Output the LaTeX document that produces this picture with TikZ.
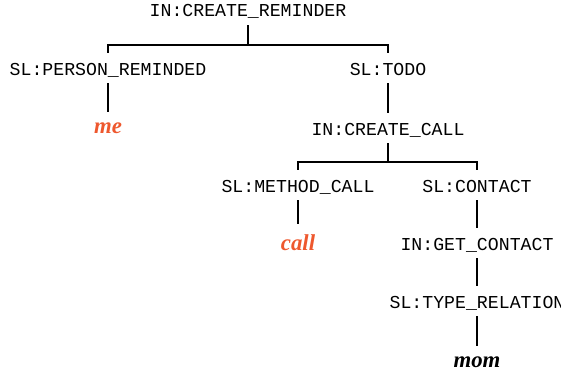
\documentclass[tikz,border=0pt]{standalone}
\usepackage{fontspec}
\setmainfont{Liberation Serif}
\setmonofont{Liberation Mono}
\definecolor{leafred}{RGB}{238,88,46}
\begin{document}
\begin{tikzpicture}[x=0.5pt,y=-0.5pt,
  lbl/.style={inner sep=0pt,anchor=base,font=\fontsize{9.1}{11}\ttfamily,text height=5.75pt,text depth=0pt},
  leaf/.style={inner sep=0pt,anchor=base,font=\fontsize{11.4}{13}\bfseries\itshape},
  edge/.style={line width=0.6pt},
  down/.style={edge,shorten <=4pt,shorten >=5pt},
  tick/.style={edge,shorten >=5pt}]
\useasboundingbox (0,0) rectangle (561,376);
% nodes
\node[lbl] (root) at (248,16) {IN:CREATE\_REMINDER};
\node[lbl] (person) at (108,75) {SL:PERSON\_REMINDED};
\node[lbl] (todo) at (388,75) {SL:TODO};
\node[leaf,text=leafred] (me) at (108,133) {me};
\node[lbl] (createcall) at (388,135) {IN:CREATE\_CALL};
\node[lbl] (method) at (298,192) {SL:METHOD\_CALL};
\node[lbl] (contact) at (477,192) {SL:CONTACT};
\node[leaf,text=leafred] (call) at (298,250) {call};
\node[lbl] (getcontact) at (477,250) {IN:GET\_CONTACT};
\node[lbl] (relation) at (477,308) {SL:TYPE\_RELATION};
\node[leaf] (mom) at (477,367) {mom};
% bars
\coordinate (b1) at (248,45);
\coordinate (b2) at (388,162);
\draw[edge,shorten <=4.5pt] (root.south) -- (b1);
\draw[tick] (b1) -| (person.north);
\draw[tick] (b1) -| (todo.north);
\draw[edge,shorten <=4pt] (createcall.south) -- (b2);
\draw[tick] (b2) -| (method.north);
\draw[tick] (b2) -| (contact.north);
% single edges
\draw[down] (person.south) -- (me.north);
\draw[down] (todo.south) -- (createcall.north);
\draw[down] (method.south) -- (call.north);
\draw[down] (contact.south) -- (getcontact.north);
\draw[down] (getcontact.south) -- (relation.north);
\draw[down] (relation.south) -- (mom.north);
\end{tikzpicture}
\end{document}
